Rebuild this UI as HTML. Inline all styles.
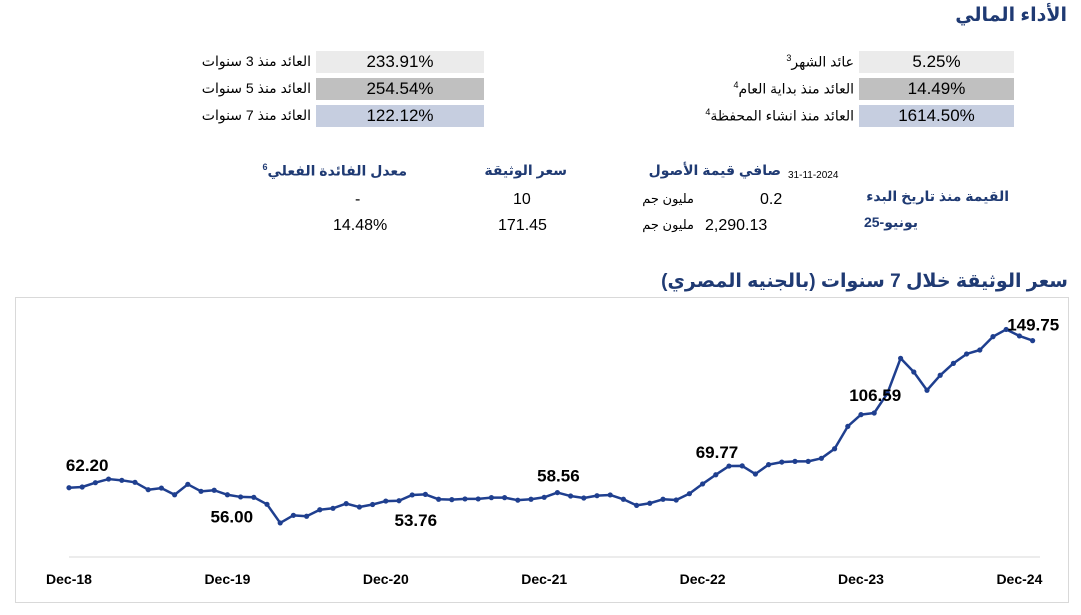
<!DOCTYPE html>
<html><head><meta charset="utf-8">
<style>
body{margin:0;width:1081px;height:615px;background:#fff;position:relative;overflow:hidden;font-family:"Liberation Sans","DejaVu Sans",sans-serif;color:#000}
.a{position:absolute;white-space:nowrap}
.box{position:absolute;height:22px;line-height:22px;text-align:center;font-size:17px;color:#000}
.lbl{font-size:14px;direction:rtl;text-align:right;color:#000}
.hd{font-weight:bold;color:#1f3a73;font-size:14px;direction:rtl}
</style></head><body>
<div class="a" style="right:14px;top:4px;font-size:19px;font-weight:bold;color:#1f3a73;direction:rtl">الأداء المالي</div>

<div class="box" style="left:316px;top:51px;width:168px;background:#ebebeb">233.91%</div>
<div class="box" style="left:316px;top:78px;width:168px;background:#c0c0c0">254.54%</div>
<div class="box" style="left:316px;top:105px;width:168px;background:#c6cee0">122.12%</div>
<div class="a lbl" style="right:770px;top:53px">العائد منذ 3 سنوات</div>
<div class="a lbl" style="right:770px;top:80px">العائد منذ 5 سنوات</div>
<div class="a lbl" style="right:770px;top:107px">العائد منذ 7 سنوات</div>

<div class="box" style="left:859px;top:51px;width:155px;background:#ebebeb">5.25%</div>
<div class="box" style="left:859px;top:78px;width:155px;background:#c0c0c0">14.49%</div>
<div class="box" style="left:859px;top:105px;width:155px;background:#c6cee0">1614.50%</div>
<div class="a lbl" style="right:227px;top:53px">عائد الشهر<sup style="font-size:9px">3</sup></div>
<div class="a lbl" style="right:227px;top:80px">العائد منذ بداية العام<sup style="font-size:9px">4</sup></div>
<div class="a lbl" style="right:227px;top:107px">العائد منذ انشاء المحفظة<sup style="font-size:9px">4</sup></div>

<div class="a hd" style="right:674px;top:162px">معدل الفائدة الفعلي<sup style="font-size:9px">6</sup></div>
<div class="a hd" style="right:514px;top:162px">سعر الوثيقة</div>
<div class="a hd" style="right:300px;top:162px">صافي قيمة الأصول</div>
<div class="a" style="left:788px;top:170px;font-size:10px">31-11-2024</div>
<div class="a hd" style="right:72px;top:188px">القيمة منذ تاريخ البدء</div>
<div class="a hd" style="right:163px;top:214px">يونيو-25</div>

<div class="a" style="left:355px;top:191px;font-size:16px">-</div>
<div class="a" style="left:513px;top:191px;font-size:16px">10</div>
<div class="a" style="left:760px;top:191px;font-size:16px">0.2</div>
<div class="a lbl" style="right:387px;top:191px;font-size:13px">مليون جم</div>
<div class="a" style="left:333px;top:217px;font-size:16px">14.48%</div>
<div class="a" style="left:498px;top:217px;font-size:16px">171.45</div>
<div class="a" style="left:705px;top:217px;font-size:16px">2,290.13</div>
<div class="a lbl" style="right:387px;top:217px;font-size:13px">مليون جم</div>

<div class="a" style="right:13px;top:270px;font-size:19px;font-weight:bold;color:#1f3a73;direction:rtl">سعر الوثيقة خلال 7 سنوات (بالجنيه المصري)</div>
<svg class="a" style="left:0;top:0" width="1081" height="615" id="chart"></svg>
<script>
const values=[61.8,62.2,64.6,66.6,65.9,64.8,60.7,61.6,57.9,63.7,59.8,60.4,57.9,56.7,56.5,52.6,42.3,46.5,46.0,49.6,50.4,53.0,51.1,52.5,54.4,54.6,57.8,58.1,55.4,55.2,55.6,55.6,56.3,56.3,54.9,55.4,56.5,59.1,57.2,56.1,57.4,57.8,55.4,52.0,53.2,55.4,55.0,58.5,63.9,69.0,73.8,73.9,69.4,74.6,76.0,76.4,76.4,78.1,83.4,95.8,102.3,103.2,114.1,133.5,125.9,115.8,124.1,130.7,135.9,138.1,145.5,149.5,145.9,143.3];
const tickLabels=["Dec-18","Dec-19","Dec-20","Dec-21","Dec-22","Dec-23","Dec-24"];
const tickIdx=[0,12,24,36,48,60,72];
const annIdx=[1,14,24,37,50,61,71];
const annText=["62.20","56.00","53.76","58.56","69.77","106.59","149.75"];
const annDx=[5,-22,30,1,-12,1,27];
const annDy=[-16,25,25,-11,-8,-12,1];
const NS="http://www.w3.org/2000/svg";
const svg=document.getElementById('chart');
const x=i=>69+i*13.2;
const y=v=>487-(v-62.2)*1.805;
function mk(t,a){const e=document.createElementNS(NS,t);for(const k in a)e.setAttribute(k,a[k]);svg.appendChild(e);return e;}
let fr=mk('rect',{x:15.5,y:297.5,width:1053,height:305,fill:'none',stroke:'#d9d9d9'});


let ax=mk('line',{x1:69,x2:1040,y1:557,y2:557,stroke:'#d9d9d9'});


tickIdx.forEach((ti,k)=>{const t=mk('text',{x:x(ti),y:584,'text-anchor':'middle','font-size':14,'font-weight':'bold','font-family':'Liberation Sans'});t.textContent=tickLabels[k];

});
let p=mk('polyline',{points:values.map((v,i)=>x(i)+','+y(v)).join(' '),fill:'none',stroke:'#1f3f8f','stroke-width':2.5,'stroke-linejoin':'round'});


values.forEach((v,i)=>{const c=mk('circle',{cx:x(i),cy:y(v),r:2.6,fill:'#1f3f8f'});

});
annIdx.forEach((ai,k)=>{const t=mk('text',{x:x(ai)+annDx[k],y:y(values[ai])+annDy[k],'text-anchor':'middle','font-size':17,'font-weight':'bold','font-family':'Liberation Sans'});t.textContent=annText[k];

});
</script>
</body></html>
